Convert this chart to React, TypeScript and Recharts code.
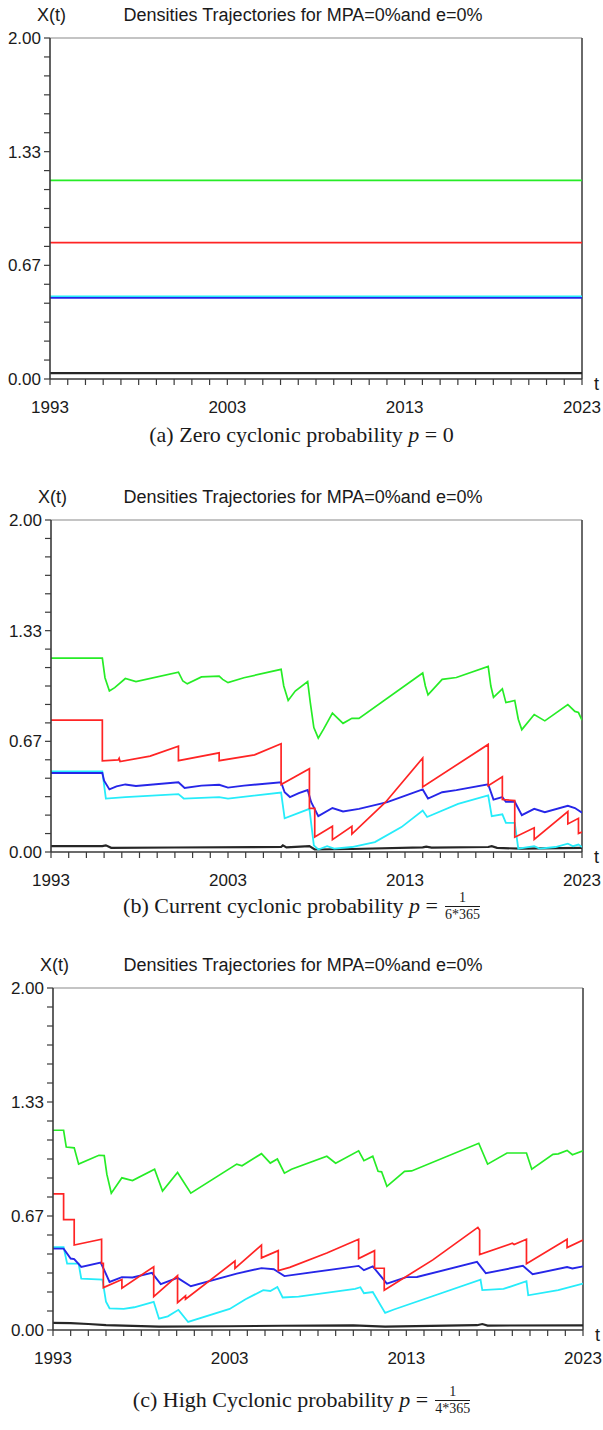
import React from "react";
import { LineChart, Line, XAxis, YAxis, ReferenceLine } from "recharts";

type Pt = [number, number];

const T0 = 1993;
const T1 = 2023;
const xLabelYears = [1993, 2003, 2013, 2023];
const yLabelValues = [0, 2 / 3, 4 / 3, 2];
const yLabelText = ["0.00", "0.67", "1.33", "2.00"];
const xTicks = Array.from({ length: T1 - T0 + 1 }, (_, i) => T0 + i);
const yTicks = Array.from({ length: 19 }, (_, i) => (i * 2) / 18);

const titleText = "Densities Trajectories for MPA=0%and e=0%";

// (a) p = 0 : every density stays at its initial level
const aGreen: Pt[] = [[1993, 1.165], [2023, 1.165]];
const aRed: Pt[] = [[1993, 0.8], [2023, 0.8]];
const aCyan: Pt[] = [[1993, 0.485], [2023, 0.485]];
const aBlue: Pt[] = [[1993, 0.476], [2023, 0.476]];
const aBlack: Pt[] = [[1993, 0.035], [2023, 0.035]];

// (b) p = 1/(6*365)
const bGreen: Pt[] = [
  [1993, 1.168], [1995.9, 1.168], [1996.05, 1.05], [1996.3, 0.97], [1996.6, 0.99], [1997.2, 1.045],
  [1997.8, 1.027], [2000.2, 1.083], [2000.45, 1.03], [2000.7, 1.013], [2001.5, 1.055], [2002.5, 1.06],
  [2002.7, 1.04], [2003.0, 1.02], [2003.9, 1.05], [2006.0, 1.1], [2006.15, 1.0], [2006.4, 0.913],
  [2006.8, 0.97], [2007.5, 1.027], [2007.65, 0.9], [2007.85, 0.75], [2008.1, 0.686], [2008.4, 0.74],
  [2008.9, 0.837], [2009.5, 0.775], [2010.0, 0.805], [2010.4, 0.805], [2014.0, 1.078], [2014.15, 1.0],
  [2014.3, 0.947], [2015.1, 1.04], [2015.9, 1.051], [2017.7, 1.118], [2017.85, 1.0], [2018.0, 0.932],
  [2018.5, 0.983], [2018.7, 0.9], [2019.2, 0.913], [2019.4, 0.8], [2019.6, 0.737], [2020.3, 0.828],
  [2020.9, 0.79], [2022.2, 0.888], [2022.6, 0.847], [2022.8, 0.84], [2023, 0.794],
];
const bRed: Pt[] = [
  [1993, 0.795], [1995.9, 0.795], [1995.9, 0.549], [1996.8, 0.555], [1996.85, 0.565], [1996.9, 0.545],
  [1998.6, 0.578], [2000.2, 0.638], [2000.2, 0.55], [2002.5, 0.597], [2002.5, 0.55], [2004.5, 0.585],
  [2006.0, 0.652], [2006.0, 0.407], [2007.6, 0.502], [2007.6, 0.263], [2007.9, 0.263], [2007.9, 0.09],
  [2008.9, 0.155], [2008.9, 0.074], [2010.0, 0.155], [2010.0, 0.108], [2011.9, 0.3], [2014.0, 0.566],
  [2014.0, 0.392], [2017.7, 0.648], [2017.7, 0.4], [2018.5, 0.453], [2018.5, 0.316], [2019.2, 0.31],
  [2019.2, 0.089], [2020.3, 0.146], [2020.3, 0.076], [2022.2, 0.244], [2022.2, 0.169], [2022.8, 0.203],
  [2022.8, 0.112], [2023, 0.12],
];
const bBlue: Pt[] = [
  [1993, 0.476], [1995.9, 0.476], [1996.0, 0.43], [1996.3, 0.377], [1996.7, 0.395], [1997.2, 0.407],
  [1997.8, 0.398], [2000.2, 0.42], [2000.55, 0.386], [2001.5, 0.4], [2002.5, 0.405], [2003.0, 0.388],
  [2003.9, 0.4], [2006.0, 0.42], [2006.2, 0.36], [2006.5, 0.331], [2007.0, 0.355], [2007.5, 0.373],
  [2007.7, 0.3], [2008.1, 0.216], [2008.9, 0.265], [2009.5, 0.244], [2010.4, 0.26], [2012.0, 0.3],
  [2014.0, 0.377], [2014.3, 0.322], [2015.1, 0.36], [2015.9, 0.373], [2017.7, 0.407], [2018.0, 0.316],
  [2018.5, 0.331], [2018.7, 0.303], [2019.2, 0.303], [2019.6, 0.222], [2020.3, 0.26], [2020.9, 0.24],
  [2022.2, 0.278], [2022.6, 0.265], [2023, 0.237],
];
const bCyan: Pt[] = [
  [1993, 0.485], [1995.9, 0.485], [1996.1, 0.322], [1997.2, 0.331], [2000.2, 0.349], [2000.5, 0.322],
  [2002.5, 0.331], [2003.0, 0.322], [2006.0, 0.358], [2006.2, 0.203], [2007.6, 0.26], [2007.85, 0.04],
  [2008.1, 0.015], [2008.6, 0.035], [2009.0, 0.02], [2010.0, 0.03], [2011.3, 0.06], [2012.8, 0.15],
  [2014.0, 0.25], [2014.25, 0.211], [2016.0, 0.29], [2017.7, 0.341], [2017.9, 0.216], [2018.5, 0.227],
  [2018.7, 0.176], [2019.2, 0.176], [2019.4, 0.02], [2020.3, 0.035], [2020.6, 0.02], [2021.5, 0.03],
  [2022.2, 0.05], [2022.5, 0.035], [2022.8, 0.045], [2023, 0.03],
];
const bBlack: Pt[] = [
  [1993, 0.035], [1995.9, 0.035], [1996.1, 0.04], [1996.4, 0.025], [2000, 0.027], [2006, 0.03],
  [2006.1, 0.04], [2006.3, 0.028], [2007.6, 0.035], [2007.9, 0.015], [2010, 0.018], [2014, 0.028],
  [2014.2, 0.032], [2014.5, 0.026], [2017.7, 0.03], [2017.9, 0.035], [2018.2, 0.025], [2019.5, 0.02],
  [2023, 0.025],
];

// (c) p = 1/(4*365)
const cGreen: Pt[] = [
  [1993, 1.168], [1993.6, 1.168], [1993.75, 1.07], [1994.2, 1.065], [1994.45, 0.97], [1995.6, 1.022],
  [1995.9, 1.02], [1996.05, 0.91], [1996.3, 0.8], [1996.9, 0.89], [1997.5, 0.874], [1998.75, 0.94],
  [1999.2, 0.812], [2000.05, 0.921], [2000.8, 0.8], [2003.4, 0.97], [2003.7, 0.96], [2004.8, 1.031],
  [2005.3, 0.976], [2005.7, 1.0], [2006.1, 0.917], [2006.5, 0.94], [2008.5, 1.016], [2009.0, 0.975],
  [2010.3, 1.048], [2010.6, 0.99], [2011.1, 1.016], [2011.4, 0.928], [2011.6, 0.925], [2011.9, 0.84],
  [2012.9, 0.928], [2013.3, 0.93], [2017.1, 1.092], [2017.6, 0.97], [2018.7, 1.035], [2019.8, 1.035],
  [2020.1, 0.94], [2021.3, 1.027], [2021.6, 1.03], [2022.1, 1.05], [2022.4, 1.025], [2023, 1.048],
];
const cRed: Pt[] = [
  [1993, 0.796], [1993.6, 0.796], [1993.6, 0.646], [1994.2, 0.646], [1994.2, 0.497], [1995.75, 0.531],
  [1995.75, 0.39], [1995.85, 0.39], [1995.85, 0.248], [1996.9, 0.295], [1996.9, 0.245], [1998.7, 0.37],
  [1998.7, 0.195], [2000.05, 0.318], [2000.05, 0.16], [2000.5, 0.2], [2000.5, 0.18], [2003.3, 0.403],
  [2003.3, 0.36], [2004.8, 0.497], [2004.8, 0.422], [2005.75, 0.464], [2005.75, 0.347], [2006.4, 0.366],
  [2008.5, 0.45], [2010.3, 0.531], [2010.3, 0.418], [2011.2, 0.464], [2011.2, 0.361], [2011.75, 0.361],
  [2011.75, 0.233], [2014.5, 0.41], [2017.05, 0.6], [2017.15, 0.585], [2017.15, 0.441], [2019.0, 0.507],
  [2019.1, 0.5], [2019.8, 0.531], [2019.8, 0.388], [2022.1, 0.531], [2022.1, 0.482], [2023, 0.526],
];
const cBlue: Pt[] = [
  [1993, 0.476], [1993.6, 0.476], [1994.0, 0.418], [1994.2, 0.415], [1994.6, 0.369], [1995.7, 0.394],
  [1995.9, 0.35], [1996.2, 0.281], [1996.9, 0.309], [1997.5, 0.307], [1998.6, 0.334], [1999.1, 0.268],
  [2000.05, 0.305], [2000.8, 0.256], [2003.4, 0.33], [2004.8, 0.362], [2005.5, 0.355], [2006.1, 0.315],
  [2010.3, 0.375], [2010.6, 0.35], [2011.1, 0.372], [2011.9, 0.271], [2013.0, 0.309], [2013.6, 0.31],
  [2017.0, 0.398], [2017.5, 0.332], [2019.6, 0.375], [2020.15, 0.326], [2022.1, 0.368], [2022.4, 0.36],
  [2023, 0.372],
];
const cCyan: Pt[] = [
  [1993, 0.485], [1993.6, 0.485], [1993.8, 0.388], [1994.45, 0.388], [1994.6, 0.3], [1995.8, 0.295],
  [1996.0, 0.165], [1996.2, 0.127], [1997.0, 0.123], [1997.6, 0.133], [1998.7, 0.165], [1999.0, 0.066],
  [1999.5, 0.08], [2000.1, 0.118], [2000.65, 0.047], [2003.0, 0.123], [2003.9, 0.18], [2004.9, 0.233],
  [2005.3, 0.228], [2005.7, 0.252], [2006.0, 0.19], [2006.9, 0.195], [2010.1, 0.241], [2010.4, 0.25],
  [2010.6, 0.215], [2011.1, 0.222], [2011.8, 0.1], [2012.3, 0.12], [2017.2, 0.294], [2017.3, 0.233],
  [2018.5, 0.24], [2019.8, 0.285], [2019.9, 0.203], [2021.6, 0.233], [2023, 0.271],
];
const cBlack: Pt[] = [
  [1993, 0.042], [1994, 0.04], [1995, 0.035], [1996, 0.028], [1999, 0.02], [2003, 0.022], [2006, 0.025],
  [2010, 0.027], [2011.8, 0.02], [2017, 0.028], [2017.3, 0.035], [2017.6, 0.026], [2023, 0.027],
];

const GREEN = "#26ec26";
const RED = "#ff2424";
const BLUE = "#2626e8";
const CYAN = "#26ecfa";
const BLACK = "#262626";

const SANS = "'Liberation Sans', Arial, sans-serif";
const SERIF = "'Liberation Serif', 'Times New Roman', serif";
const INK = "#1a1a1a";

interface Series {
  key: string;
  color: string;
  width: number;
  pts: Pt[];
}

const toRows = (pts: Pt[]) => pts.map(([t, v]) => ({ t, v }));

function seriesSet(green: Pt[], red: Pt[], blue: Pt[], cyan: Pt[], black: Pt[]): Series[] {
  return [
    { key: "black", color: BLACK, width: 2.2, pts: black },
    { key: "cyan", color: CYAN, width: 1.8, pts: cyan },
    { key: "blue", color: BLUE, width: 1.9, pts: blue },
    { key: "red", color: RED, width: 1.7, pts: red },
    { key: "green", color: GREEN, width: 1.7, pts: green },
  ];
}

const XTick = (props: any) => {
  const { x, y, payload } = props;
  if (!xLabelYears.includes(payload.value)) return <g />;
  return (
    <text x={x} y={y} dy={26} textAnchor="middle" fontSize={17} fill={INK} fontFamily={SANS}>
      {payload.value}
    </text>
  );
};

const YTick = (props: any) => {
  const { x, y, payload } = props;
  const idx = yLabelValues.findIndex((v) => Math.abs(v - payload.value) < 1e-6);
  if (idx < 0) return <g />;
  return (
    <text x={x - 1} y={y} dy={6} textAnchor="end" fontSize={17} fill={INK} fontFamily={SANS}>
      {yLabelText[idx]}
    </text>
  );
};

interface Geom {
  left: number;
  right: number;
  top: number;
  bottom: number;
  captionY: number;
}

function Fraction({ den }: { den: string }) {
  return (
    <span
      style={{
        display: "inline-flex",
        flexDirection: "column",
        alignItems: "center",
        verticalAlign: "middle",
        fontSize: 14,
        lineHeight: "16px",
        marginLeft: 7,
      }}
    >
      <span style={{ borderBottom: `1px solid ${INK}`, width: "100%", textAlign: "center" }}>1</span>
      <span>{den}</span>
    </span>
  );
}

function Panel({ g, series, caption }: { g: Geom; series: Series[]; caption: React.ReactNode }) {
  const chartTop = g.top - 10;
  const height = g.bottom - chartTop + 40;
  return (
    <>
      <div
        style={{
          position: "absolute",
          left: g.left - 13,
          top: g.top - 34,
          lineHeight: "22px",
          fontSize: 18,
          fontFamily: SANS,
          color: INK,
        }}
      >
        X(t)
      </div>
      <div
        style={{
          position: "absolute",
          left: 0,
          width: 606,
          top: g.top - 34,
          lineHeight: "22px",
          fontSize: 18,
          fontFamily: SANS,
          color: INK,
          textAlign: "center",
        }}
      >
        {titleText}
      </div>
      <div style={{ position: "absolute", left: 0, top: chartTop }}>
        <LineChart width={603} height={height} margin={{ top: 10, right: 603 - g.right, bottom: 0, left: 0 }}>
          <XAxis
            dataKey="t"
            type="number"
            domain={[T0, T1]}
            ticks={xTicks}
            interval={0}
            allowDataOverflow
            height={40}
            tickSize={6}
            tick={<XTick />}
            axisLine={{ stroke: "#3a3a3a", strokeWidth: 1.6 }}
            tickLine={{ stroke: "#3a3a3a", strokeWidth: 1.2 }}
          />
          <YAxis
            type="number"
            domain={[0, 2]}
            ticks={yTicks}
            interval={0}
            allowDataOverflow
            width={g.left}
            tickSize={6}
            tick={<YTick />}
            axisLine={{ stroke: "#3a3a3a", strokeWidth: 1.6 }}
            tickLine={{ stroke: "#3a3a3a", strokeWidth: 1.2 }}
          />
          <ReferenceLine y={2} stroke="#8a8a8a" strokeWidth={1.2} />
          <ReferenceLine x={T1} stroke="#5a5a5a" strokeWidth={1.8} />
          {series.map((s) => (
            <Line
              key={s.key}
              data={toRows(s.pts)}
              dataKey="v"
              type="linear"
              stroke={s.color}
              strokeWidth={s.width}
              dot={false}
              activeDot={false}
              isAnimationActive={false}
            />
          ))}
        </LineChart>
      </div>
      <div
        style={{
          position: "absolute",
          left: g.right + 12,
          top: g.bottom - 6,
          lineHeight: "22px",
          fontSize: 18,
          fontFamily: SANS,
          color: INK,
        }}
      >
        t
      </div>
      <div
        style={{
          position: "absolute",
          left: 0,
          width: 603,
          top: g.captionY - 16,
          height: 32,
          display: "flex",
          alignItems: "center",
          justifyContent: "center",
          fontSize: 22,
          fontFamily: SERIF,
          color: INK,
          whiteSpace: "pre",
        }}
      >
        {caption}
      </div>
    </>
  );
}

export default function App() {
  return (
    <div style={{ position: "absolute", left: 0, top: 0, width: 603, height: 1430, background: "#fff" }}>
      <Panel
        g={{ left: 50, right: 582, top: 38, bottom: 379, captionY: 435 }}
        series={seriesSet(aGreen, aRed, aBlue, aCyan, aBlack)}
        caption={
          <span>
            (a) Zero cyclonic probability <i>p</i> = 0
          </span>
        }
      />
      <Panel
        g={{ left: 51, right: 582, top: 520, bottom: 852, captionY: 906 }}
        series={seriesSet(bGreen, bRed, bBlue, bCyan, bBlack)}
        caption={
          <>
            <span>(b) Current cyclonic probability </span>
            <i>p</i>
            <span> =</span>
            <Fraction den="6*365" />
          </>
        }
      />
      <Panel
        g={{ left: 53, right: 583, top: 988, bottom: 1330, captionY: 1400 }}
        series={seriesSet(cGreen, cRed, cBlue, cCyan, cBlack)}
        caption={
          <>
            <span>(c) High Cyclonic probability </span>
            <i>p</i>
            <span> =</span>
            <Fraction den="4*365" />
          </>
        }
      />
    </div>
  );
}
